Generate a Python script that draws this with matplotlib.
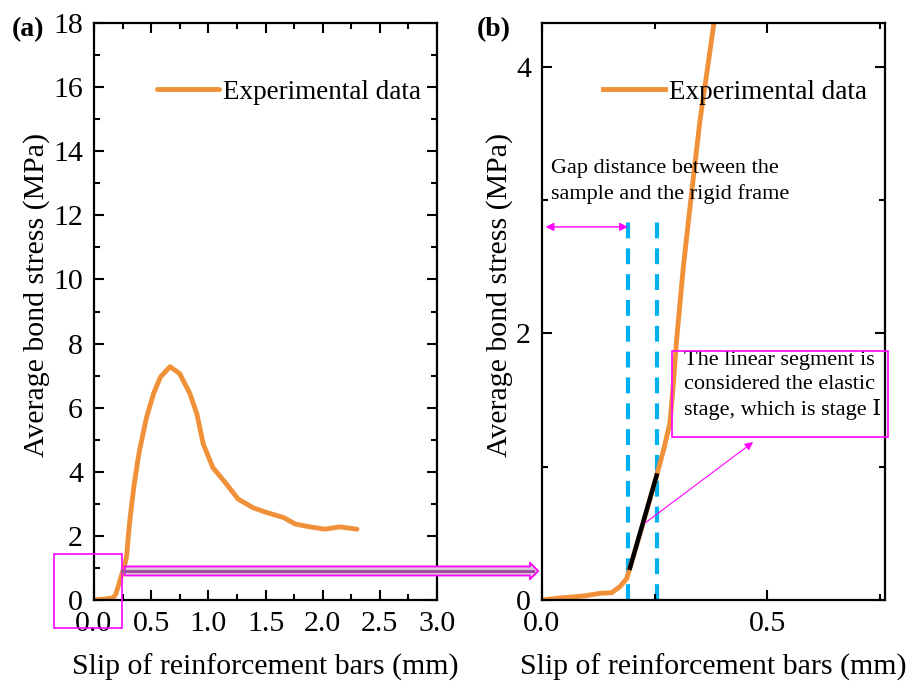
import matplotlib
matplotlib.use("Agg")
import matplotlib.pyplot as plt
from matplotlib.patches import Rectangle, FancyArrowPatch
from matplotlib.ticker import MultipleLocator
import numpy as np

plt.rcParams['font.family'] = ['Liberation Serif', 'DejaVu Serif']

# slip (mm) and average bond stress (MPa)
slip = [0.0, 0.04, 0.092, 0.129, 0.155, 0.173, 0.188, 0.194, 0.225, 0.256,
        0.27, 0.284, 0.292, 0.299, 0.314, 0.333, 0.351, 0.366, 0.382,
        0.40, 0.46, 0.52, 0.58, 0.665, 0.75, 0.84, 0.90, 0.956, 1.04,
        1.16, 1.26, 1.39, 1.51, 1.66, 1.76, 1.89, 2.02, 2.15, 2.30]
stress = [0.0, 0.015, 0.03, 0.05, 0.055, 0.10, 0.16, 0.225, 0.58, 0.95,
          1.125, 1.325, 1.625, 1.95, 2.5, 3.075, 3.6, 3.95, 4.33,
          4.7, 5.7, 6.43, 6.95, 7.28, 7.06, 6.43, 5.8, 4.86, 4.13,
          3.61, 3.15, 2.88, 2.73, 2.57, 2.37, 2.28, 2.21, 2.28, 2.21]

# linear (elastic) segment
lin_slip = [0.194, 0.256]
lin_stress = [0.225, 0.95]

# boundaries of the linear segment
gap_lines = [0.191, 0.256]

orange = '#F0913A'
magenta = '#FF00FF'
blue = '#00B0F0'

fig = plt.figure(figsize=(9.09, 6.91), dpi=100)
W, H = 909, 691


def px_ax(l, r, t, b):
    return [l / W, 1 - b / H, (r - l) / W, (b - t) / H]


def style(ax):
    for s in ax.spines.values():
        s.set_linewidth(1.6)
    ax.tick_params(which='both', direction='in', top=True, right=True,
                   labelsize=21.5, width=1.5, pad=8)
    ax.tick_params(which='major', length=7)
    ax.tick_params(which='minor', length=4)


ax1 = fig.add_axes(px_ax(94, 437, 23, 600))
ax2 = fig.add_axes(px_ax(542, 885, 23, 600))

# ---- panel (a)
ax1.plot(slip, stress, color=orange, lw=3.5, solid_capstyle='round',
         label='Experimental data')
ax1.set_xlim(0, 3.0)
ax1.set_ylim(0, 18)
ax1.xaxis.set_major_locator(MultipleLocator(0.5))
ax1.xaxis.set_minor_locator(MultipleLocator(0.25))
ax1.yaxis.set_major_locator(MultipleLocator(2))
ax1.yaxis.set_minor_locator(MultipleLocator(1))
ax1.xaxis.set_major_formatter(lambda v, p: f'{v:.1f}')
style(ax1)
ax1.set_xlabel('Slip of reinforcement bars (mm)', fontsize=21.5, labelpad=12)
ax1.set_ylabel('Average bond stress (MPa)', fontsize=21.5)
ax1.yaxis.set_label_coords(-0.128, 0.528)
ax1.legend(loc='center left', bbox_to_anchor=(0.184, 0.88), frameon=False,
           fontsize=19.5, handlelength=2.3, handletextpad=0.12,
           borderpad=0, borderaxespad=0)
ax1.add_patch(Rectangle((-0.35, -0.875), 0.595, 2.315, fill=False,
                        edgecolor=magenta, lw=1.2, clip_on=False, zorder=5))

# ---- panel (b)
ax2.plot(slip, stress, color=orange, lw=3.5, label='Experimental data')
ax2.plot(lin_slip, lin_stress, color='black', lw=3.2, solid_capstyle='butt')
for gx in gap_lines:
    ax2.plot([gx, gx], [0, 2.9], color=blue, lw=3, ls=(0, (3.8, 2.4)),
             zorder=1)
ax2.set_xlim(0, 0.762)
ax2.set_ylim(0, 4.33)
ax2.xaxis.set_major_locator(MultipleLocator(0.5))
ax2.xaxis.set_minor_locator(MultipleLocator(0.25))
ax2.yaxis.set_major_locator(MultipleLocator(2))
ax2.yaxis.set_minor_locator(MultipleLocator(1))
ax2.xaxis.set_major_formatter(lambda v, p: f'{v:.1f}')
style(ax2)
ax2.set_xlabel('Slip of reinforcement bars (mm)', fontsize=21.5, labelpad=12)
ax2.set_ylabel('Average bond stress (MPa)', fontsize=21.5)
ax2.yaxis.set_label_coords(-0.085, 0.528)
ax2.legend(loc='center left', bbox_to_anchor=(0.178, 0.88), frameon=False,
           fontsize=19.5, handlelength=2.3, handletextpad=0.12,
           borderpad=0, borderaxespad=0)

ax2.text(0.02, 3.31, 'Gap distance between the\nsample and the rigid frame',
         fontsize=16, va='top', ha='left', linespacing=1.4)
ax2.annotate('', xy=(0.008, 2.8), xytext=(0.191, 2.8),
             arrowprops=dict(arrowstyle='<|-|>', color=magenta, lw=1,
                             mutation_scale=12, shrinkA=0, shrinkB=0))

ax2.annotate('', xy=(0.469, 1.185), xytext=(0.229, 0.578),
             arrowprops=dict(arrowstyle='-|>', color=magenta, lw=0.8,
                             mutation_scale=12, shrinkA=0, shrinkB=0))

fig.add_artist(Rectangle((672 / W, 1 - 437 / H), (888 - 672) / W,
                         (437 - 351) / H, transform=fig.transFigure,
                         fill=False, edgecolor=magenta, lw=1.2, zorder=6))
fig.text(684 / W, 1 - 351 / H,
         'The linear segment is\nconsidered the elastic\nstage, which is stage \u2160',
         fontsize=16, va='top', ha='left', linespacing=1.33)

# big arrow linking the zoom window to panel (b)
big = FancyArrowPatch((122 / W, 1 - 571 / H), (541 / W, 1 - 571 / H),
                      transform=fig.transFigure,
                      arrowstyle='simple,head_length=0.6,head_width=1.2,tail_width=0.65',
                      mutation_scale=10, facecolor='#DCCCDC', edgecolor=magenta,
                      lw=1.3, zorder=7)
fig.add_artist(big)
fig.add_artist(plt.Line2D([122 / W, 533 / W], [1 - 571 / H, 1 - 571 / H],
                          transform=fig.transFigure, color='#A050A0', lw=2.2,
                          zorder=8))

fig.text(12 / W, 1 - 30 / H, '(a)', fontsize=20, fontweight='bold',
         va='center', ha='left')
fig.text(477 / W, 1 - 30 / H, '(b)', fontsize=20, fontweight='bold',
         va='center', ha='left')

fig.savefig('out.png', dpi=100)
